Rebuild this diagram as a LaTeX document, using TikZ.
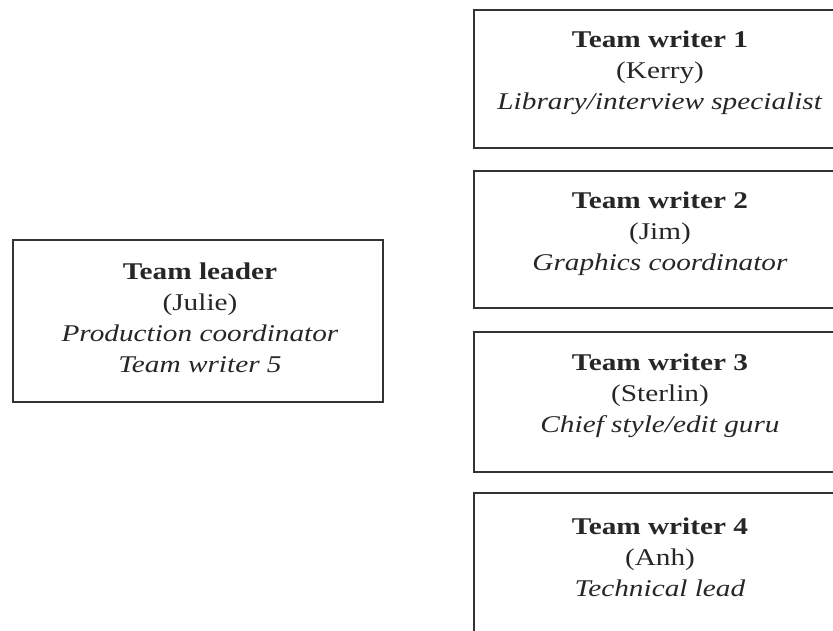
\documentclass[tikz,border=0pt]{standalone}
\usepackage{fontspec}
\setmainfont{Liberation Serif}[FakeStretch=1.22]
\begin{document}
\begin{tikzpicture}[x=1pt,y=-1pt,
  box/.style={draw=black!80, line width=1.6pt, rectangle, inner sep=0pt},
  label/.style={align=center, inner sep=0pt, text=black!85, font=\fontsize{24}{31}\selectfont}]
\useasboundingbox (0,0) rectangle (833,631);
\clip (0,0) rectangle (833,631);
% left box
\node[box, minimum width=370pt, minimum height=162pt] (lead) at (198,321) {};
\node[label] (leadt) at (200,318) {\textbf{Team leader}\\(Julie)\\\textit{Production coordinator}\\\textit{Team writer 5}};
% right boxes
\node[box, minimum width=372pt, minimum height=138pt] (w1) at (660,79) {};
\node[label] (w1t) at (660,73) {\textbf{Team writer 1}\\(Kerry)\\\textit{Library/interview specialist}};
\node[box, minimum width=372pt, minimum height=137pt] (w2) at (660,239.5) {};
\node[label] (w2t) at (660,234) {\textbf{Team writer 2}\\(Jim)\\\textit{Graphics coordinator}};
\node[box, minimum width=372pt, minimum height=140pt] (w3) at (660,402) {};
\node[label] (w3t) at (660,396) {\textbf{Team writer 3}\\(Sterlin)\\\textit{Chief style/edit guru}};
\node[box, minimum width=372pt, minimum height=140pt] (w4) at (660,563) {};
\node[label] (w4t) at (660,557) {\textbf{Team writer 4}\\(Anh)\\\textit{Technical lead}};
\end{tikzpicture}
\end{document}
